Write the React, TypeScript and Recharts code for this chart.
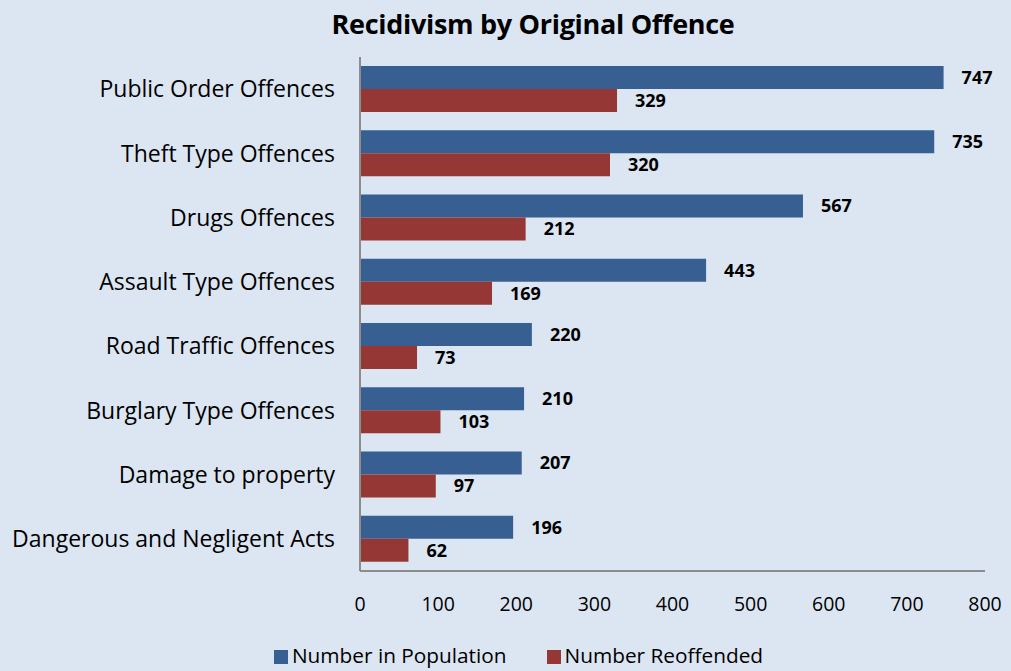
import { BarChart, Bar, XAxis, YAxis, Legend, LabelList } from 'recharts'

const categories = [
  'Public Order Offences',
  'Theft Type Offences',
  'Drugs Offences',
  'Assault Type Offences',
  'Road Traffic Offences',
  'Burglary Type Offences',
  'Damage to property',
  'Dangerous and Negligent Acts',
]
const population = [747, 735, 567, 443, 220, 210, 207, 196]
const reoffended = [329, 320, 212, 169, 73, 103, 97, 62]
const xTicks = [0, 100, 200, 300, 400, 500, 600, 700, 800]

const data = categories.map((name, i) => ({
  name,
  population: population[i],
  reoffended: reoffended[i],
}))

const FONT = '"Open Sans", Lato, sans-serif'
const BG = '#dce6f2'

export default function App() {
  return (
    <div
      style={{
        position: 'absolute',
        left: 0,
        top: 0,
        width: 1011,
        height: 671,
        background: BG,
        fontFamily: FONT,
      }}
    >
      <div
        style={{
          position: 'absolute',
          top: 5,
          left: 0,
          width: 1066,
          textAlign: 'center',
          fontSize: 27,
          fontWeight: 700,
          color: '#000',
          letterSpacing: -0.3,
        }}
      >
        Recidivism by Original Offence
      </div>
      <BarChart
        width={1011}
        height={671}
        data={data}
        layout="vertical"
        margin={{ top: 57, right: 26, left: 0, bottom: 2 }}
        barGap={0}
        barCategoryGap="14%"
      >
        <XAxis
          type="number"
          domain={[0, 800]}
          ticks={xTicks}
          interval={0}
          tickLine={false}
          tickSize={0}
          tickMargin={26}
          height={70}
          axisLine={{ stroke: '#8c8c8c', strokeWidth: 2 }}
          tick={{ fill: '#000', fontSize: 19.5, fontFamily: FONT }}
        />
        <YAxis
          type="category"
          dataKey="name"
          width={360}
          tickLine={false}
          tickSize={0}
          tickMargin={25}
          interval={0}
          axisLine={{ stroke: '#8c8c8c', strokeWidth: 2 }}
          tick={{ fill: '#000', fontSize: 23, fontFamily: FONT }}
        />
        <Legend
          verticalAlign="bottom"
          align="center"
          iconType="square"
          iconSize={14}
          itemSorter="dataKey"
          wrapperStyle={{ fontFamily: FONT, fontSize: 20.8, left: 46 }}
          formatter={value => <span style={{ color: '#000', marginRight: 30 }}>{value}</span>}
        />
        <Bar
          dataKey="population"
          name="Number in Population"
          fill="#375f91"
          barSize={23}
          isAnimationActive={false}
        >
          <LabelList
            dataKey="population"
            position="right"
            offset={18}
            style={{ fill: '#000', fontWeight: 700, fontSize: 18, fontFamily: FONT }}
          />
        </Bar>
        <Bar
          dataKey="reoffended"
          name="Number Reoffended"
          fill="#953735"
          barSize={23}
          isAnimationActive={false}
        >
          <LabelList
            dataKey="reoffended"
            position="right"
            offset={18}
            style={{ fill: '#000', fontWeight: 700, fontSize: 18, fontFamily: FONT }}
          />
        </Bar>
      </BarChart>
    </div>
  )
}
